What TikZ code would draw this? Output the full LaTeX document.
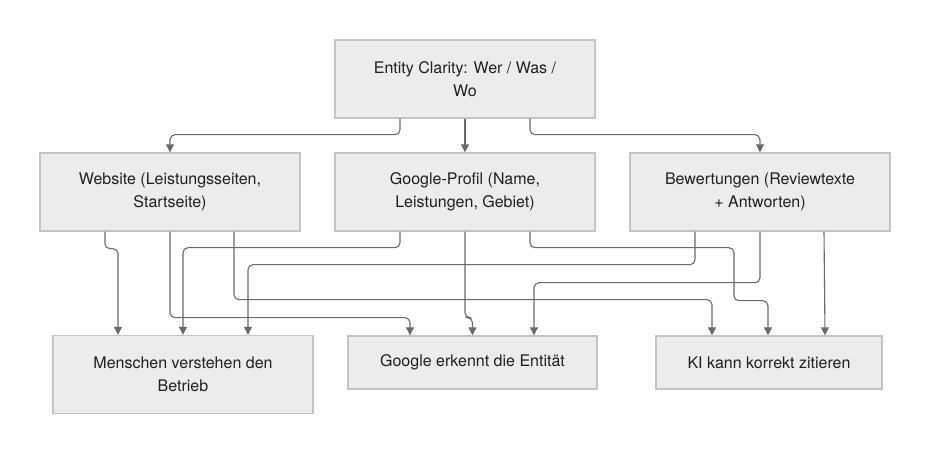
\documentclass[tikz,border=0pt]{standalone}
\usepackage{fontspec}
\setmainfont{TeX Gyre Heros}
\usepackage{tikz}
\usetikzlibrary{arrows.meta,positioning}
\definecolor{boxfill}{HTML}{ECECEC}
\definecolor{boxline}{HTML}{C4C4C4}
\definecolor{linkgray}{HTML}{6A6A6A}

\begin{document}
\begin{tikzpicture}[
    x=1pt, y=1pt,
    >={Triangle[length=8pt,width=8pt]},
    block/.style={draw=boxline, line width=1.4pt, fill=boxfill, align=center, text=black!88,
      font=\fontsize{16}{23}\selectfont, minimum width=260pt, minimum height=78pt, inner sep=0pt},
    flatblock/.style={block, minimum height=53pt},
    link/.style={->, draw=linkgray, line width=1.1pt, rounded corners=5pt}
  ]
    \useasboundingbox (0,0) rectangle (930,-454);
    \node[block] (entity) at (465,-79) {Entity Clarity: Wer / Was /\\Wo};
    \node[block] (web) at (170,-192) {Website (Leistungsseiten,\\Startseite)};
    \node[block] (gprofil) at (465,-192) {Google-Profil (Name,\\Leistungen, Gebiet)};
    \node[block] (reviews) at (760,-192) {Bewertungen (Reviewtexte\\+ Antworten)};
    \node[block] (people) at (183,-374.5) {Menschen verstehen den\\Betrieb};
    \node[flatblock, minimum width=249pt] (gknows) at (472.5,-362.5) {Google erkennt die Entität};
    \node[flatblock, minimum width=226pt] (aicite) at (769,-362.5) {KI kann korrekt zitieren};

    \draw[link] ([xshift=-65pt]entity.south) -- ++(0,-16) -| (web.north);
    \draw[link] (entity.south) -- (gprofil.north);
    \draw[link] ([xshift=65pt]entity.south) -- ++(0,-16) -| (reviews.north);

    \draw[link] ([xshift=-65pt]web.south) -- ++(0,-17) -| ([xshift=-65pt]people.north);
    \draw[link] (web.south) -- ++(0,-86) -| ([xshift=-62.5pt]gknows.north);
    \draw[link] ([xshift=64pt]web.south) -- ++(0,-68) -| ([xshift=-57pt]aicite.north);

    \draw[link] ([xshift=-65pt]gprofil.south) -- ++(0,-16) -| (people.north);
    \draw[link] (gprofil.south) -- ++(0,-86) -| (gknows.north);
    \draw[link] ([xshift=65pt]gprofil.south) -- ++(0,-16) -- ++(204,0) -- ++(0,-53) -| ([xshift=-1pt]aicite.north);

    \draw[link] ([xshift=-65pt]reviews.south) -- ++(0,-33) -| ([xshift=65pt]people.north);
    \draw[link] (reviews.south) -- ++(0,-51) -| ([xshift=61.5pt]gknows.north);
    \draw[link] ([xshift=64pt]reviews.south) -- ([xshift=56pt]aicite.north);
  \end{tikzpicture}
\end{document}
